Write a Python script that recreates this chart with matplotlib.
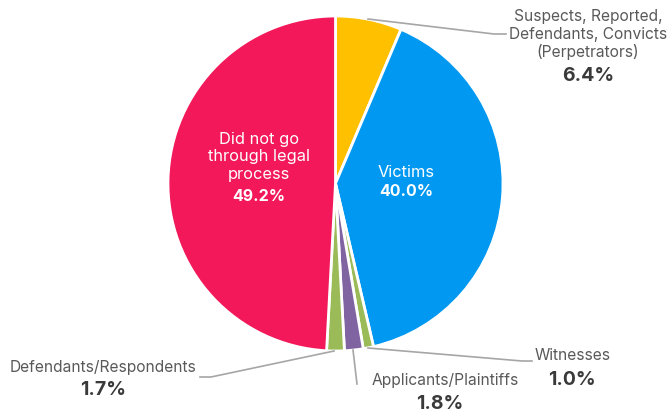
import matplotlib
matplotlib.use("Agg")
import matplotlib.pyplot as plt

plt.rcParams['font.family'] = ['Inter', 'DejaVu Sans']

# Share of cases by role in legal process
categories = ["Suspects, Reported,\nDefendants, Convicts\n(Perpetrators)",
              "Victims", "Witnesses", "Applicants/Plaintiffs",
              "Defendants/Respondents", "Did not go\nthrough legal\nprocess"]
values = [6.4, 40.0, 1.0, 1.8, 1.7, 49.2]
colors = ["#FFC000", "#0098F0", "#9BBB59", "#8064A2", "#9BBB59", "#F2185A"]

W, H = 671, 414
fig = plt.figure(figsize=(W / 100, H / 100), dpi=100)
ax = fig.add_axes([0, 0, 1, 1])

cx, cy, r = 335.5, 184.5, 167.5

# y axis runs downward (pixel-like coordinates), so a data start of -90
# with counterclockwise order renders clockwise from 12 o'clock
wedges, _ = ax.pie(values, colors=colors, startangle=-90, counterclock=True,
                   center=(cx, cy), radius=r, frame=True,
                   wedgeprops=dict(edgecolor='white', linewidth=2))
ax.set_xlim(0, W)
ax.set_ylim(H, 0)
ax.set_aspect('equal')
ax.axis('off')

reg = dict(color='#595959', fontsize=11.2, fontweight='normal', ha='center',
           va='center', linespacing=1.2)
bold = dict(color='#3a3a3a', fontsize=14, fontweight='bold', ha='center', va='center')
line = dict(color='#a6a6a6', lw=1.2)

# inside labels
ax.text(259, 157, categories[5], **{**reg, 'color': 'white', 'fontsize': 11.8})
ax.text(259, 197, f"{values[5]:.1f}%", **{**bold, 'color': 'white', 'fontsize': 11.5})
ax.text(406, 173, categories[1], **{**reg, 'color': 'white', 'fontsize': 11.8})
ax.text(406, 192, f"{values[1]:.1f}%", **{**bold, 'color': 'white', 'fontsize': 11.5})

# outside labels with leader lines
ax.text(588, 35, categories[0], **reg)
ax.text(588, 76, f"{values[0]:.1f}%", **bold)
ax.plot([368, 494, 506], [20, 35, 35], **line)

ax.text(573, 356, categories[2], **reg)
ax.text(572, 380, f"{values[2]:.1f}%", **bold)
ax.plot([368, 522, 532], [349, 362, 362], **line)

ax.text(445, 381, categories[3], **reg)
ax.text(440, 404, f"{values[3]:.1f}%", **bold)
ax.plot([353, 357], [351, 385], **line)

ax.text(103, 368, categories[4], **reg)
ax.text(103, 390, f"{values[4]:.1f}%", **bold)
ax.plot([334, 211, 200], [352, 378, 378], **line)

fig.savefig("out.png", dpi=100, facecolor='white')
